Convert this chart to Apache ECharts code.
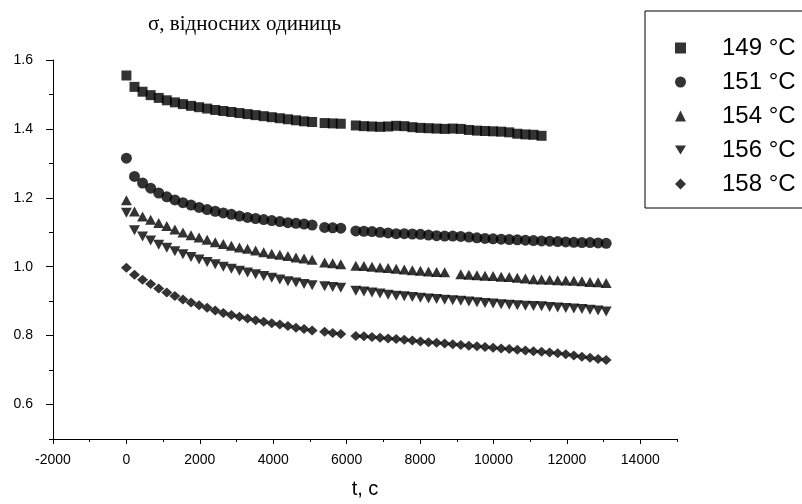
<!DOCTYPE html>
<html>
<head>
<meta charset="utf-8">
<script src="https://cdn.jsdelivr.net/npm/echarts@6.0.0/dist/echarts.min.js"></script>
<style>
  html, body { margin: 0; padding: 0; background: #fff; }
  #chart { width: 802px; height: 504px; }
</style>
</head>
<body>
<div id="chart"></div>
<script>
// час вимірювання, с (спільний для всіх серій)
var times = [0, 220, 440, 660, 880, 1100, 1320, 1540, 1760, 1980, 2200, 2420, 2640, 2860, 3080, 3300, 3520, 3740, 3960, 4180, 4400, 4620, 4840, 5060,
  5400, 5620, 5840,
  6250, 6470, 6690, 6910, 7130, 7350, 7570, 7790, 8010, 8230, 8450, 8670, 8890, 9110, 9330, 9550, 9770, 9990, 10210, 10430, 10650, 10870, 11090, 11310,
  11530, 11750, 11970, 12190, 12410, 12630, 12850, 13070];

var names = ['149 °C', '151 °C', '154 °C', '156 °C', '158 °C'];

var s149 = [1.555, 1.522, 1.508, 1.498, 1.490, 1.483, 1.477, 1.472, 1.467, 1.463, 1.459, 1.455, 1.452, 1.449, 1.446, 1.443, 1.440, 1.437, 1.434, 1.431, 1.428, 1.425, 1.422, 1.420,
  1.417, 1.416, 1.415,
  1.410, 1.408, 1.407, 1.406, 1.407, 1.409, 1.408, 1.405, 1.403, 1.402, 1.401, 1.400, 1.401, 1.400, 1.397, 1.395, 1.394, 1.393, 1.392, 1.390, 1.386, 1.384, 1.383, 1.380];
var s151 = [1.315, 1.262, 1.243, 1.228, 1.214, 1.203, 1.194, 1.186, 1.179, 1.172, 1.166, 1.161, 1.156, 1.152, 1.147, 1.143, 1.140, 1.137, 1.134, 1.131, 1.128, 1.126, 1.124, 1.121,
  1.114, 1.113, 1.112,
  1.104, 1.103, 1.102, 1.100, 1.098, 1.096, 1.096, 1.095, 1.094, 1.092, 1.090, 1.089, 1.089, 1.088, 1.086, 1.084, 1.082, 1.081, 1.080, 1.079, 1.078, 1.077, 1.076, 1.075,
  1.074, 1.073, 1.072, 1.071, 1.070, 1.070, 1.069, 1.068];
var s154 = [1.193, 1.160, 1.146, 1.136, 1.127, 1.118, 1.108, 1.099, 1.091, 1.085, 1.078, 1.071, 1.066, 1.061, 1.056, 1.052, 1.047, 1.042, 1.038, 1.035, 1.031, 1.027, 1.024, 1.020,
  1.012, 1.010, 1.007,
  1.003, 1.002, 1.000, 0.998, 0.996, 0.994, 0.992, 0.990, 0.988, 0.986, 0.985, 0.984, null, 0.978, 0.977, 0.975, 0.974, 0.973, 0.971, 0.970, 0.968, 0.966, 0.964, 0.963,
  0.962, 0.961, 0.960, 0.959, 0.958, 0.956, 0.955, 0.953];
var s156 = [1.157, 1.106, 1.088, 1.076, 1.064, 1.055, 1.045, 1.036, 1.028, 1.021, 1.014, 1.007, 1.000, 0.994, 0.988, 0.983, 0.978, 0.973, 0.968, 0.963, 0.958, 0.954, 0.950, 0.946,
  0.943, 0.941, 0.939,
  0.930, 0.928, 0.925, 0.922, 0.919, 0.916, 0.914, 0.912, 0.910, 0.908, 0.906, 0.904, 0.903, 0.901, 0.899, 0.897, 0.895, 0.893, 0.891, 0.890, 0.888, 0.887, 0.886, 0.885,
  0.883, 0.882, 0.880, 0.879, 0.877, 0.875, 0.873, 0.870];
var s158 = [0.997, 0.977, 0.962, 0.950, 0.937, 0.925, 0.915, 0.905, 0.896, 0.888, 0.881, 0.873, 0.866, 0.860, 0.855, 0.850, 0.845, 0.840, 0.836, 0.832, 0.828, 0.823, 0.819, 0.815,
  0.811, 0.808, 0.805,
  0.799, 0.798, 0.796, 0.794, 0.792, 0.790, 0.788, 0.786, 0.783, 0.781, 0.779, 0.777, 0.775, 0.773, 0.771, 0.769, 0.767, 0.765, 0.763, 0.761, 0.759, 0.757, 0.755, 0.753,
  0.751, 0.749, 0.746, 0.742, 0.739, 0.736, 0.732, 0.729];

var xMajor = [-2000, 0, 2000, 4000, 6000, 8000, 10000, 12000, 14000];
var xMinor = [-1000, 1000, 3000, 5000, 7000, 9000, 11000, 13000, 15000];
var yMajor = [0.6, 0.8, 1.0, 1.2, 1.4, 1.6];
var yMinor = [0.5, 0.7, 0.9, 1.1, 1.3, 1.5];

function pairs(vals) {
  var out = [];
  for (var i = 0; i < vals.length; i++) {
    if (vals[i] != null) out.push([times[i], vals[i]]);
  }
  return out;
}

var myChart = echarts.init(document.getElementById('chart'));
var black = '#000';
var sans = 'Liberation Sans, Arial, sans-serif';

var option = {
  animation: false,
  backgroundColor: '#fff',
  title: {
    text: 'σ, відносних одиниць',
    left: 148,
    top: 14,
    padding: 0,
    textStyle: { fontFamily: 'Liberation Serif, Times New Roman, serif', fontSize: 21, fontWeight: 'normal', color: black }
  },
  legend: {
    orient: 'vertical',
    left: 645,
    top: 11,
    padding: [25, 30, 12, 30],
    itemGap: 10,
    itemWidth: 11,
    itemHeight: 11,
    borderColor: black,
    borderWidth: 1,
    selectedMode: false,
    data: names,
    textStyle: { fontFamily: sans, fontSize: 24, lineHeight: 24, color: black, padding: [0, 0, 0, 31] }
  },
  grid: { left: 53, right: 125, top: 60, bottom: 64 },
  xAxis: [
    {
      type: 'value', min: -2000, max: 15000, position: 'bottom',
      name: 't, c', nameLocation: 'middle', nameGap: 40,
      nameTextStyle: { fontFamily: sans, fontSize: 20, color: black },
      axisLine: { show: true, onZero: false, lineStyle: { color: black, width: 1 } },
      axisTick: { show: true, length: 5, customValues: xMajor, lineStyle: { color: black } },
      axisLabel: { customValues: xMajor, color: black, fontFamily: sans, fontSize: 14, margin: 14,
        formatter: function (v) { return String(v); } },
      splitLine: { show: false }
    },
    {
      type: 'value', min: -2000, max: 15000, position: 'bottom',
      axisLine: { show: false, onZero: false },
      axisTick: { show: true, length: 3, customValues: xMinor, lineStyle: { color: black } },
      axisLabel: { show: false },
      splitLine: { show: false }
    }
  ],
  yAxis: [
    {
      type: 'value', min: 0.5, max: 1.6, position: 'left',
      axisLine: { show: true, onZero: false, lineStyle: { color: black, width: 1 } },
      axisTick: { show: true, length: 7, customValues: yMajor, lineStyle: { color: black } },
      axisLabel: { customValues: yMajor, color: black, fontFamily: sans, fontSize: 14, margin: 20,
        formatter: function (v) { return v.toFixed(1); } },
      splitLine: { show: false }
    },
    {
      type: 'value', min: 0.5, max: 1.6, position: 'left',
      axisLine: { show: false, onZero: false },
      axisTick: { show: true, length: 4, customValues: yMinor, lineStyle: { color: black } },
      axisLabel: { show: false },
      splitLine: { show: false }
    }
  ],
  series: [
    { name: names[0], type: 'scatter', symbol: 'rect', symbolSize: 10, data: pairs(s149) },
    { name: names[1], type: 'scatter', symbol: 'circle', symbolSize: 11, data: pairs(s151) },
    { name: names[2], type: 'scatter', symbol: 'triangle', symbolSize: [11, 10], data: pairs(s154) },
    { name: names[3], type: 'scatter', symbol: 'path://M0,0L12,0L6,10Z', symbolSize: [11, 10], data: pairs(s156) },
    { name: names[4], type: 'scatter', symbol: 'diamond', symbolSize: [11, 10], data: pairs(s158) }
  ].map(function (s) {
    s.itemStyle = { color: black };
    s.xAxisIndex = 0;
    s.yAxisIndex = 0;
    return s;
  })
};

myChart.setOption(option);
</script>
</body>
</html>
